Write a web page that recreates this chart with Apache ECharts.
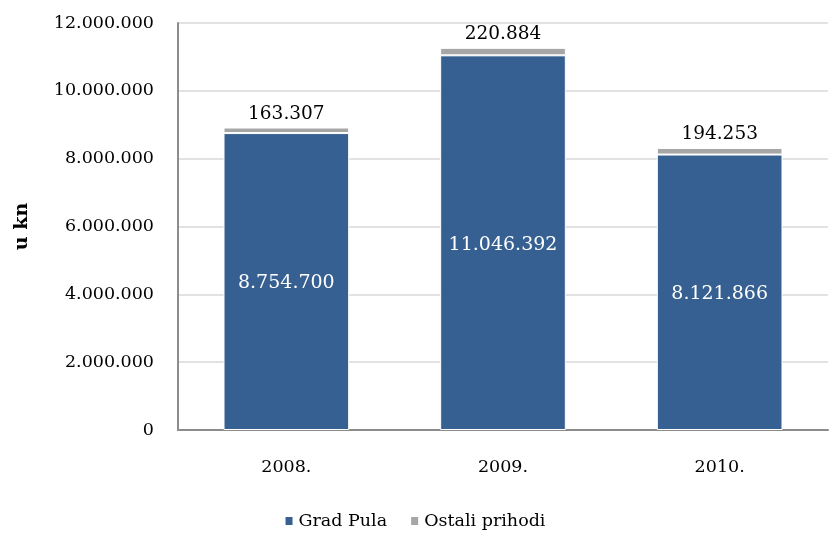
<!DOCTYPE html>
<html>
<head>
<meta charset="utf-8">
<script src="https://cdn.jsdelivr.net/npm/echarts@6/dist/echarts.min.js"></script>
<style>
  html, body { margin: 0; padding: 0; background: #fff; }
  #chart { width: 829px; height: 534px; }
</style>
</head>
<body>
<div id="chart"></div>
<script>
const years = ['2008.', '2009.', '2010.'];
const gradPula = [8754700, 11046392, 8121866];
const ostaliPrihodi = [163307, 220884, 194253];

const fontFamily = '"DejaVu Serif", Cambria, serif';

// thousands separated with dots
function fmt(v) {
  return String(Math.round(v)).replace(/\B(?=(\d{3})+(?!\d))/g, '.');
}

const chart = echarts.init(document.getElementById('chart'));

chart.setOption({
  animation: false,
  textStyle: { fontFamily: fontFamily },
  grid: { left: 178, right: 1, top: 23, bottom: 104 },
  legend: {
    bottom: -1,
    left: 'center',
    itemWidth: 9,
    itemHeight: 10,
    itemGap: 22,
    icon: 'rect',
    textStyle: { fontSize: 17.5, color: '#000', fontFamily: fontFamily },
    data: ['Grad Pula', 'Ostali prihodi']
  },
  xAxis: {
    type: 'category',
    data: years,
    axisLine: { lineStyle: { color: '#8c8c8c', width: 2 } },
    axisTick: { show: false },
    axisLabel: { color: '#000', fontSize: 17.5, margin: 28, fontFamily: fontFamily }
  },
  yAxis: {
    type: 'value',
    min: 0,
    max: 12000000,
    interval: 2000000,
    name: 'u kn',
    nameLocation: 'middle',
    nameRotate: 90,
    nameGap: 146,
    nameTextStyle: { fontSize: 19, fontWeight: 'bold', color: '#000', fontFamily: fontFamily },
    axisLine: { show: true, lineStyle: { color: '#8c8c8c', width: 2 } },
    axisTick: { show: false },
    splitLine: { lineStyle: { color: '#d9d9d9', width: 1.5 } },
    axisLabel: {
      color: '#000',
      fontSize: 17.5,
      margin: 24,
      fontFamily: fontFamily,
      formatter: fmt
    }
  },
  series: [
    {
      name: 'Grad Pula',
      type: 'bar',
      stack: 'total',
      barWidth: '58%',
      data: gradPula,
      itemStyle: { color: '#376092', borderColor: '#fff', borderWidth: 1 },
      label: {
        show: true,
        position: 'inside',
        offset: [0, 2],
        color: '#fff',
        fontSize: 19,
        fontFamily: fontFamily,
        formatter: p => fmt(p.value)
      }
    },
    {
      name: 'Ostali prihodi',
      type: 'bar',
      stack: 'total',
      barWidth: '58%',
      data: ostaliPrihodi,
      itemStyle: { color: '#a6a6a6', borderColor: '#fff', borderWidth: 1 },
      label: {
        show: true,
        position: 'top',
        distance: 4,
        color: '#000',
        fontSize: 18.5,
        fontFamily: fontFamily,
        formatter: p => fmt(p.value)
      }
    }
  ]
});
</script>
</body>
</html>
